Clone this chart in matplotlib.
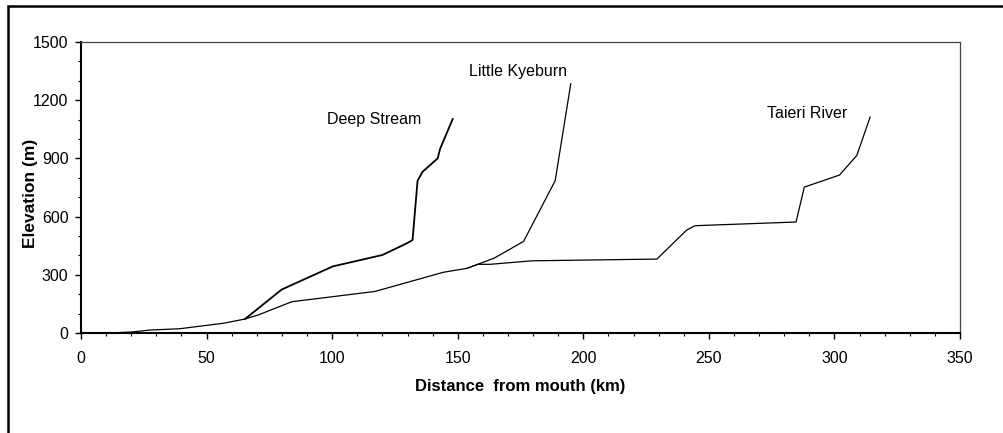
import matplotlib
matplotlib.use('Agg')
import matplotlib.pyplot as plt
from matplotlib.patches import Rectangle
from matplotlib.ticker import MultipleLocator

plt.rcParams['font.family'] = ['Liberation Sans', 'DejaVu Sans']

# distance from mouth (km) and elevation (m)
taieri_x = [11.5, 20, 27.5, 39.4, 56.7, 65.3, 70.6, 83.9, 117, 144.3, 153.6, 158, 163,
            179.5, 229.3, 241.2, 244.5, 284.7, 288, 302, 308.9, 314.2]
taieri_y = [0, 5, 15, 22, 50, 72, 93, 161, 214, 313, 333, 354, 354,
            372, 381, 531, 553, 572, 752, 814, 915, 1113]

deep_x = [65.3, 79.9, 100.2, 120, 129.7, 132, 134, 136, 142, 143, 148]
deep_y = [72, 224, 343, 402, 462, 479, 785, 831, 900, 950, 1103]

kye_x = [153.6, 164.4, 176.2, 188.8, 195]
kye_y = [333, 385, 472, 785, 1284]

labels = ['Deep Stream', 'Little Kyeburn', 'Taieri River']
label_pos = [(116.7, 1101), (174, 1347), (289, 1132)]

fig = plt.figure(figsize=(10.04, 4.33), dpi=100)
ax = fig.add_axes([0.0807, 0.231, 0.8755, 0.672])

ax.plot(taieri_x, taieri_y, color='black', lw=0.9)
ax.plot(kye_x, kye_y, color='black', lw=0.9)
ax.plot(deep_x, deep_y, color='black', lw=1.3)

for txt, (x, y) in zip(labels, label_pos):
    ax.text(x, y, txt, ha='center', va='center', fontsize=11.5)

ax.set_xlim(0, 350)
ax.set_ylim(0, 1500)
ax.xaxis.set_major_locator(MultipleLocator(50))
ax.xaxis.set_minor_locator(MultipleLocator(10))
ax.yaxis.set_major_locator(MultipleLocator(300))
ax.yaxis.set_minor_locator(MultipleLocator(100))
ax.tick_params(which='major', direction='out', length=4, width=1, labelsize=11.5)
ax.tick_params(axis='x', which='major', pad=9)
ax.tick_params(axis='y', which='major', pad=5)
ax.tick_params(which='minor', direction='out', length=2.5, width=0.8)

for s in ['top', 'right']:
    ax.spines[s].set_linewidth(0.9)
    ax.spines[s].set_color('#444444')
for s in ['left', 'bottom']:
    ax.spines[s].set_linewidth(1.5)
    ax.spines[s].set_color('black')

ax.set_xlabel('Distance  from mouth (km)', fontsize=12, fontweight='bold', labelpad=9)
ax.set_ylabel('Elevation (m)', fontsize=12.5, fontweight='bold')
ax.yaxis.set_label_coords(-0.049, 0.481)

# outer frame, cut off at right and bottom like the source
fig.patches.append(Rectangle((8 / 1004, -0.1), 1.2, 1 - 6 / 433 + 0.1,
                             transform=fig.transFigure, fill=False,
                             edgecolor='black', lw=1.8, clip_on=False))

fig.savefig('out.png', dpi=100)
